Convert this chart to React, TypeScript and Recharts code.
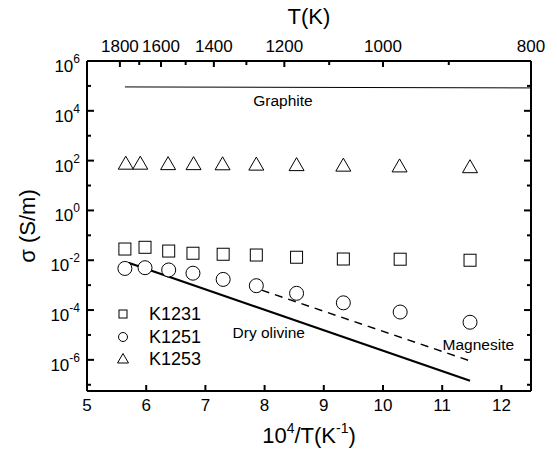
import React from 'react';
import { ComposedChart, Line, Scatter, XAxis, YAxis, ReferenceDot } from 'recharts';

const FONT = '"Liberation Sans", Arial, Helvetica, sans-serif';

// 10^4/T (K^-1) and conductivity (S/m) for each run
const k1231X = [5.64, 5.98, 6.38, 6.79, 7.3, 7.86, 8.54, 9.33, 10.29, 11.47];
const k1231Sigma = [0.0282, 0.0331, 0.0234, 0.0191, 0.0174, 0.0162, 0.0132, 0.0112, 0.011, 0.01];
const k1251X = [5.64, 5.98, 6.38, 6.79, 7.3, 7.86, 8.54, 9.33, 10.29, 11.47];
const k1251Sigma = [0.00468, 0.00501, 0.00407, 0.00302, 0.0017, 0.00095, 0.00047, 0.000195, 0.0000832, 0.0000324];
const k1253X = [5.655, 5.9, 6.37, 6.8, 7.29, 7.86, 8.54, 9.33, 10.28, 11.47];
const k1253Sigma = [72, 72, 69, 69, 68, 66, 63, 60, 56, 52];

// reference lines
const graphiteX = [5.64, 12.5];
const graphiteSigma = [91000, 83000];
const olivineX = [5.7, 11.47];
const olivineSigma = [0.0079, 1.45e-7];
const magnesiteX = [7.95, 11.47];
const magnesiteSigma = [0.00063, 9.1e-7];

// annotations
const noteNames = ['Graphite', 'Dry olivine', 'Magnesite'];
const noteX = [8.31, 8.07, 11.61];
const noteSigma = [27000, 1.2e-5, 4.3e-6];

// ticks
const invTTicks = [5, 6, 7, 8, 9, 10, 11, 12];
const tempLabels = [1800, 1600, 1400, 1200, 1000, 800];
const tempMinor = [1700, 1500, 1300, 1100, 900];
const sigmaExponents = [-7, -6, -5, -4, -3, -2, -1, 0, 1, 2, 3, 4, 5, 6];

const toPoints = (xs: number[], ys: number[]) => xs.map((x, i) => ({ x, y: ys[i] }));

const k1231 = toPoints(k1231X, k1231Sigma);
const k1251 = toPoints(k1251X, k1251Sigma);
const k1253 = toPoints(k1253X, k1253Sigma);
const graphite = toPoints(graphiteX, graphiteSigma);
const olivine = toPoints(olivineX, olivineSigma);
const magnesite = toPoints(magnesiteX, magnesiteSigma);

const sigmaTicks = sigmaExponents.map((e) => Math.pow(10, e));
const topTicks = [...tempLabels, ...tempMinor].map((t) => 1e4 / t).sort((a, b) => a - b);

const SquareShape = (p: any) => (
  <rect x={p.cx - 6} y={p.cy - 6} width={12} height={12} fill="#fff" stroke="#000" strokeWidth={1} />
);
const CircleShape = (p: any) => <circle cx={p.cx} cy={p.cy} r={7} fill="#fff" stroke="#000" strokeWidth={1} />;
const TriangleShape = (p: any) => (
  <polygon
    points={`${p.cx},${p.cy - 8} ${p.cx - 7.5},${p.cy + 5} ${p.cx + 7.5},${p.cy + 5}`}
    fill="#fff"
    stroke="#000"
    strokeWidth={1}
  />
);

const Pow = ({ e }: { e: number }) => (
  <>
    10
    <tspan dy={-9} fontSize={12}>
      {e}
    </tspan>
  </>
);

const LeftTick = (p: any) => {
  const e = Math.round(Math.log10(p.payload.value));
  const major = e % 2 === 0;
  return (
    <g>
      <line x1={p.x} y1={p.y} x2={p.x + (major ? 7 : 4)} y2={p.y} stroke="#000" strokeWidth={2} />
      {major && (
        <text x={p.x - 7} y={p.y + 11} textAnchor="end" fontSize={17} fontFamily={FONT} fill="#000">
          <Pow e={e} />
        </text>
      )}
    </g>
  );
};

const RightTick = (p: any) => {
  const e = Math.round(Math.log10(p.payload.value));
  const major = e % 2 === 0;
  return <line x1={p.x} y1={p.y} x2={p.x - (major ? 7 : 4)} y2={p.y} stroke="#000" strokeWidth={2} />;
};

const BottomTick = (p: any) => (
  <g>
    <line x1={p.x} y1={p.y} x2={p.x} y2={p.y - 6} stroke="#000" strokeWidth={2} />
    <text x={p.x} y={p.y + 20} textAnchor="middle" fontSize={17} fontFamily={FONT} fill="#000">
      {p.payload.value}
    </text>
  </g>
);

const TopTick = (p: any) => {
  const t = Math.round(1e4 / p.payload.value);
  const major = tempLabels.includes(t);
  return (
    <g>
      <line x1={p.x} y1={p.y} x2={p.x} y2={p.y + (major ? 6 : 4)} stroke="#000" strokeWidth={2} />
      {major && (
        <text x={p.x} y={p.y - 9} textAnchor="middle" fontSize={17} fontFamily={FONT} fill="#000">
          {t}
        </text>
      )}
    </g>
  );
};

const TopTitle = (p: any) => {
  const vb = p.viewBox;
  return (
    <text x={vb.x + vb.width / 2} y={vb.y + 24} textAnchor="middle" fontSize={22} fontFamily={FONT} fill="#000">
      T(K)
    </text>
  );
};

const BottomTitle = (p: any) => {
  const vb = p.viewBox;
  return (
    <text x={vb.x + vb.width / 2} y={vb.y + 52} textAnchor="middle" fontSize={22} fontFamily={FONT} fill="#000">
      10
      <tspan dy={-10} fontSize={14}>
        4
      </tspan>
      <tspan dy={10}>/T(K</tspan>
      <tspan dy={-10} fontSize={14}>
        -1
      </tspan>
      <tspan dy={10}>)</tspan>
    </text>
  );
};

const LeftTitle = (p: any) => {
  const vb = p.viewBox;
  const cx = vb.x + 27;
  const cy = vb.y + vb.height / 2;
  return (
    <text
      x={cx}
      y={cy}
      transform={`rotate(-90 ${cx} ${cy})`}
      textAnchor="middle"
      dominantBaseline="central"
      fontSize={22}
      fontFamily={FONT}
      fill="#000"
    >
      σ (S/m)
    </text>
  );
};

const legendItems = [
  { name: 'K1231', icon: 'square' },
  { name: 'K1251', icon: 'circle' },
  { name: 'K1253', icon: 'triangle' },
];

const LegendIcon = ({ icon }: { icon: string }) => (
  <svg width={14} height={14} style={{ display: 'block' }}>
    {icon === 'square' && <rect x={3} y={3} width={8} height={8} fill="#fff" stroke="#000" />}
    {icon === 'circle' && <circle cx={7} cy={7} r={4.5} fill="#fff" stroke="#000" />}
    {icon === 'triangle' && <polygon points="7,1.5 1.5,11 12.5,11" fill="#fff" stroke="#000" />}
  </svg>
);

export default function App() {
  return (
    <div style={{ position: 'absolute', left: 0, top: 0, width: 557, height: 457, background: '#fff' }}>
      <ComposedChart width={557} height={457} margin={{ top: 0, right: 0, bottom: 0, left: 0 }}>
        <XAxis
          xAxisId="b"
          dataKey="x"
          type="number"
          orientation="bottom"
          domain={[5, 12.5]}
          allowDataOverflow
          ticks={invTTicks}
          interval={0}
          height={66}
          tick={BottomTick}
          tickLine={false}
          tickSize={0}
          tickMargin={0}
          axisLine={{ stroke: '#000', strokeWidth: 2 }}
          label={BottomTitle}
        />
        <XAxis
          xAxisId="t"
          dataKey="x"
          type="number"
          orientation="top"
          domain={[5, 12.5]}
          allowDataOverflow
          ticks={topTicks}
          interval={0}
          height={61}
          tick={TopTick}
          tickLine={false}
          tickSize={0}
          tickMargin={0}
          axisLine={{ stroke: '#000', strokeWidth: 2 }}
          label={TopTitle}
        />
        <YAxis
          yAxisId="l"
          dataKey="y"
          type="number"
          scale="log"
          orientation="left"
          domain={[5.62e-8, 1e6]}
          allowDataOverflow
          ticks={sigmaTicks}
          interval={0}
          width={87}
          tick={LeftTick}
          tickLine={false}
          tickSize={0}
          tickMargin={0}
          axisLine={{ stroke: '#000', strokeWidth: 2 }}
          label={LeftTitle}
        />
        <YAxis
          yAxisId="r"
          dataKey="y"
          type="number"
          scale="log"
          orientation="right"
          domain={[5.62e-8, 1e6]}
          allowDataOverflow
          ticks={sigmaTicks}
          interval={0}
          width={26}
          tick={RightTick}
          tickLine={false}
          tickSize={0}
          tickMargin={0}
          axisLine={{ stroke: '#000', strokeWidth: 2 }}
        />
        <Line
          data={graphite}
          xAxisId="t"
          yAxisId="r"
          dataKey="y"
          type="linear"
          stroke="#000"
          strokeWidth={1}
          dot={false}
          activeDot={false}
          isAnimationActive={false}
        />
        <Line
          data={olivine}
          xAxisId="b"
          yAxisId="l"
          dataKey="y"
          type="linear"
          stroke="#000"
          strokeWidth={2.2}
          dot={false}
          activeDot={false}
          isAnimationActive={false}
        />
        <Line
          data={magnesite}
          xAxisId="b"
          yAxisId="l"
          dataKey="y"
          type="linear"
          stroke="#000"
          strokeWidth={1.4}
          strokeDasharray="8 6"
          dot={false}
          activeDot={false}
          isAnimationActive={false}
        />
        <Scatter data={k1231} xAxisId="b" yAxisId="l" dataKey="y" shape={SquareShape} isAnimationActive={false} />
        <Scatter data={k1251} xAxisId="b" yAxisId="l" dataKey="y" shape={CircleShape} isAnimationActive={false} />
        <Scatter data={k1253} xAxisId="b" yAxisId="l" dataKey="y" shape={TriangleShape} isAnimationActive={false} />
        {noteNames.map((n, i) => (
          <ReferenceDot
            key={n}
            xAxisId="b"
            yAxisId="l"
            x={noteX[i]}
            y={noteSigma[i]}
            r={0}
            fill="none"
            stroke="none"
            label={{ value: n, position: 'center', fontSize: 15.5, fontFamily: FONT, fill: '#000' }}
          />
        ))}
      </ComposedChart>
      <div style={{ position: 'absolute', left: 116, top: 303, fontFamily: FONT, fontSize: 18, color: '#000' }}>
        {legendItems.map((it) => (
          <div key={it.name} style={{ display: 'flex', alignItems: 'center', height: 22.5 }}>
            <LegendIcon icon={it.icon} />
            <span style={{ marginLeft: 19, lineHeight: '22px' }}>{it.name}</span>
          </div>
        ))}
      </div>
    </div>
  );
}
